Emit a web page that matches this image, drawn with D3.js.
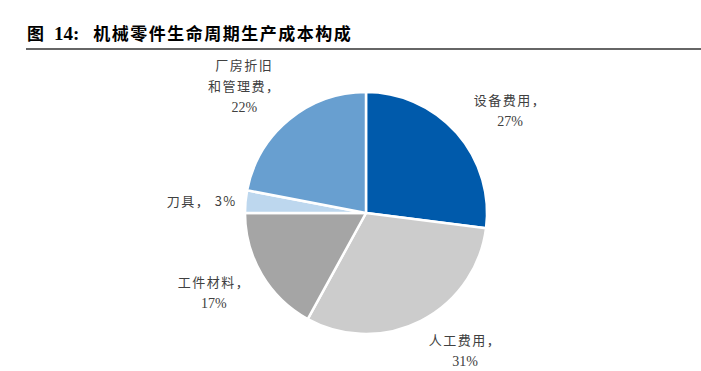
<!DOCTYPE html>
<html>
<head>
<meta charset="utf-8">
<script src="https://cdn.jsdelivr.net/npm/d3@7"></script>
<style>
  body { margin: 0; background: #fff; }
  svg { display: block; }
</style>
</head>
<body>
<div id="chart-area"></div>
<script>
// 数据
const categories = ["设备费用", "人工费用", "工件材料", "刀具", "厂房折旧和管理费"];
const values = [27, 31, 17, 3, 22];
const labelLines = [
    ["设备费用，", "27%"],
    ["人工费用，", "31%"],
    ["工件材料，", "17%"],
    ["刀具， 3%"],
    ["厂房折旧", "和管理费，", "22%"]
];
const colors = ["#005AAB", "#CCCCCC", "#A5A5A5", "#BDD7EE", "#689FD0"];

const width = 701;
const height = 371;
const cx = 366, cy = 213;
const radius = 121;
const labelRadius = 172;

// 标签微调 (像素)
const nudge = {
    "设备费用": [15, 11],
    "人工费用": [21, -16],
    "工件材料": [-4, -8],
    "刀具": [7, 4],
    "厂房折旧和管理费": [-12, 6]
};

const svg = d3.select("#chart-area")
    .append("svg")
    .attr("width", width)
    .attr("height", height);

// 标题
const title = svg.append("text")
    .attr("x", 27)
    .attr("y", 40)
    .attr("font-size", "17px")
    .attr("font-weight", "bold")
    .style("fill", "#000");
title.append("tspan")
    .attr("font-family", "'Noto Sans CJK SC', sans-serif")
    .text("图");
title.append("tspan")
    .attr("dx", 10)
    .attr("font-family", "'Liberation Serif', serif")
    .attr("font-size", "19px")
    .text("14:");
title.append("tspan")
    .attr("dx", 14)
    .attr("font-family", "'Noto Sans CJK SC', sans-serif")
    .attr("letter-spacing", "1.5px")
    .text("机械零件生命周期生产成本构成");

svg.append("line")
    .attr("x1", 26).attr("x2", 701)
    .attr("y1", 49).attr("y2", 49)
    .attr("stroke", "#333")
    .attr("stroke-width", 1.5);

// 饼图
const data = categories.map((c, i) => ({ name: c, value: values[i], lines: labelLines[i], color: colors[i] }));

const pie = d3.pie().sort(null).value(d => d.value);
const arc = d3.arc().innerRadius(0).outerRadius(radius);
const labelArc = d3.arc().innerRadius(labelRadius).outerRadius(labelRadius);

const g = svg.append("g")
    .attr("transform", `translate(${cx},${cy})`);

const arcs = pie(data);

g.selectAll("path")
    .data(arcs)
    .enter()
    .append("path")
    .attr("d", arc)
    .attr("fill", d => d.data.color)
    .attr("stroke", "#fff")
    .attr("stroke-width", 2.5)
    .attr("stroke-linejoin", "round");

// 标签
const lineH = 21;
const labels = g.selectAll("text.label")
    .data(arcs)
    .enter()
    .append("text")
    .attr("class", "label")
    .attr("text-anchor", "middle")
    .attr("font-size", "13px")
    .style("fill", "#404040")
    .attr("transform", d => {
        const [x, y] = labelArc.centroid(d);
        const [dx, dy] = nudge[d.data.name];
        const n = d.data.lines.length;
        return `translate(${x + dx},${y + dy - (n - 1) * lineH / 2 + 5})`;
    });

labels.each(function(d) {
    const t = d3.select(this);
    d.data.lines.forEach((line, i) => {
        const isNum = /^[0-9%]+$/.test(line);
        t.append("tspan")
            .attr("x", 0)
            .attr("y", i * lineH)
            .attr("font-family", isNum ? "'Liberation Serif', serif" : "'Noto Sans CJK SC', sans-serif")
            .attr("font-size", isNum ? "14px" : "13px")
            .attr("letter-spacing", isNum ? "0px" : "1.5px")
            .text(line);
    });
});
</script>
</body>
</html>
